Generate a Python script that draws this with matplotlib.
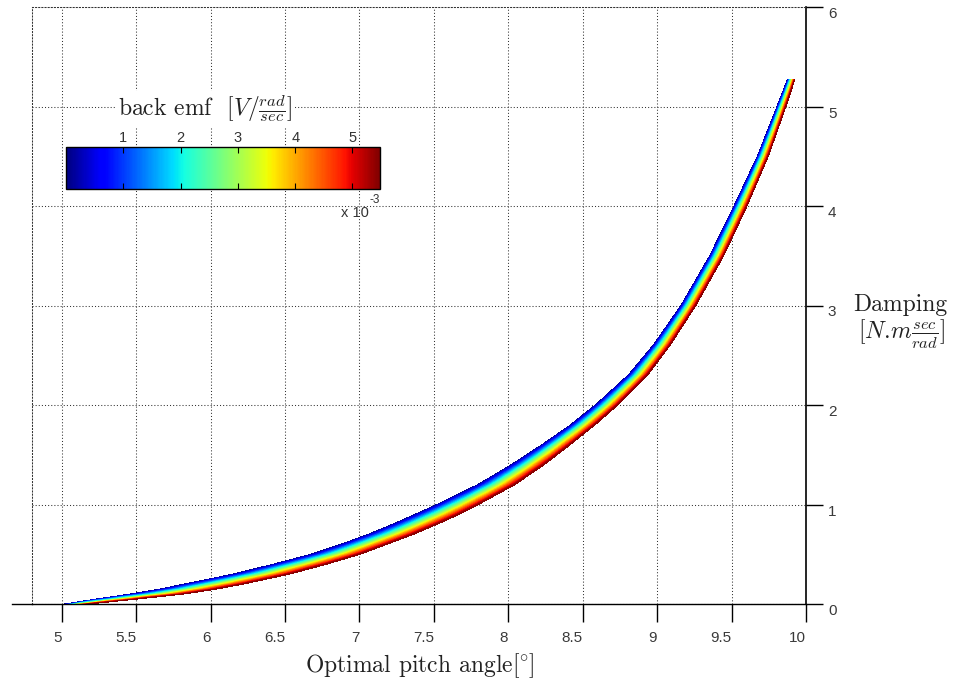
import numpy as np
import matplotlib
matplotlib.use("Agg")
import matplotlib.pyplot as plt
import matplotlib.tri as mtri
from matplotlib.colors import Normalize
from matplotlib.cm import ScalarMappable
from matplotlib.lines import Line2D

plt.rcParams['font.family'] = ['Liberation Sans', 'DejaVu Sans']
plt.rcParams['mathtext.fontset'] = 'cm'

# ---------------- data ----------------
damping_levels = [0.0, 0.05, 0.1, 0.15, 0.2, 0.3, 0.4, 0.5, 0.6, 0.7, 0.8, 0.9,
                  1.0, 1.2, 1.4, 1.6, 1.8, 2.0, 2.3, 2.6, 3.0, 3.5, 4.0, 4.5,
                  5.0, 5.27]
# optimal pitch of the lowest back-emf curve (upper-left, dark blue edge)
pitch_low_emf = [5.02, 5.23, 5.46, 5.66, 5.82, 6.15, 6.42, 6.675, 6.875, 7.058,
                 7.22, 7.372, 7.52, 7.795, 8.02, 8.225, 8.418, 8.585, 8.805,
                 8.973, 9.16, 9.353, 9.516, 9.673, 9.805, 9.875]
# optimal pitch of the middle back-emf curve
pitch_mid_emf = [5.10, 5.37, 5.64, 5.85, 6.02, 6.34, 6.60, 6.84, 7.03, 7.21,
                 7.37, 7.52, 7.66, 7.92, 8.13, 8.32, 8.50, 8.66, 8.87, 9.03,
                 9.21, 9.40, 9.56, 9.71, 9.835, 9.90]
# optimal pitch of the highest back-emf curve (lower-right, dark red edge)
pitch_high_emf = [5.18, 5.51, 5.82, 6.04, 6.22, 6.53, 6.78, 7.005, 7.185, 7.362,
                  7.52, 7.668, 7.80, 8.045, 8.24, 8.415, 8.582, 8.735, 8.935,
                  9.087, 9.26, 9.447, 9.604, 9.747, 9.865, 9.925]
emf_values = [0.0, 2.75e-3, 5.5e-3]          # back emf of the three curves

emf_min, emf_max = 0.0, 5.48e-3
x_ticks = [5, 5.5, 6, 6.5, 7, 7.5, 8, 8.5, 9, 9.5, 10]
x_tick_labels = ['5', '5.5', '6', '6.5', '7', '7.5', '8', '8.5', '9', '9.5', '10']
y_ticks = [0, 1, 2, 3, 4, 5, 6]
y_tick_labels = ['0', '1', '2', '3', '4', '5', '6']
cb_ticks = [1e-3, 2e-3, 3e-3, 4e-3, 5e-3]
cb_tick_labels = ['1', '2', '3', '4', '5']

# ---------------- figure ----------------
W, H = 956, 683
fig = plt.figure(figsize=(W / 100, H / 100), dpi=100)
ax = fig.add_axes([32 / W, 1 - 604 / H, (806 - 32) / W, (604 - 7) / H])
ax.set_xlim(4.8, 10)
ax.set_ylim(0, 6)

# band: three curves (low / mid / high back emf) triangulated
curves = [pitch_low_emf, pitch_mid_emf, pitch_high_emf]
ncol = len(curves)
nrow = len(damping_levels)
px = np.array(curves).T.ravel()           # row-major: row=damping, col=curve
py = np.repeat(damping_levels, ncol)
pz = np.tile(emf_values, nrow)
tris = []
for i in range(nrow - 1):
    for j in range(ncol - 1):
        a = i * ncol + j
        b = a + 1
        c = a + ncol
        d = c + 1
        tris.append([a, b, c])
        tris.append([b, d, c])
triang = mtri.Triangulation(px, py, np.array(tris))
levels = np.linspace(emf_values[0], emf_values[-1], 65)
ax.tricontourf(triang, pz, levels=levels, cmap='jet', zorder=2)

# grid and axes styling
dot = (0, (1, 2))
ax.set_axisbelow(True)
ax.grid(True, color='#333333', linestyle=dot, linewidth=0.75)
for side in ('left', 'top'):
    ax.spines[side].set_linestyle(dot)
    ax.spines[side].set_color('#333333')
    ax.spines[side].set_linewidth(0.75)
ax.spines['right'].set_linewidth(1.2)
ax.spines['bottom'].set_linewidth(1.0)

ax.set_xticks(x_ticks, labels=x_tick_labels)
ax.set_yticks(y_ticks, labels=y_tick_labels)
ax.yaxis.tick_right()
ax.tick_params(axis='x', direction='out', length=13, width=1, pad=6.5,
               labelsize=11, labelcolor='#3a3a3a', top=False)
ax.tick_params(axis='y', direction='out', length=12.2, width=1, pad=3.6,
               labelsize=11, labelcolor='#3a3a3a', left=False, right=True)
for t in ax.get_xticklabels():
    t.set_horizontalalignment('right')
for t in ax.get_yticklabels():
    t.set_verticalalignment('top')

# x-axis line extension to the left
ax.add_line(Line2D([-20 / 774, 0], [0, 0], transform=ax.transAxes,
                   color='k', lw=1.0, clip_on=False))

# labels
fig.text(420 / W, 1 - 666 / H, r'Optimal pitch angle$[\!^\circ\!]$', family='cmr10',
         fontsize=17, ha='center', va='center', color='#222222')
fig.text(900 / W, 1 - 305 / H, 'Damping', family='cmr10', fontsize=17,
         ha='center', va='center', color='#222222')
fig.text(901 / W, 1 - 334 / H, r'$[N.\!m\frac{sec}{rad}]$', fontsize=17,
         ha='center', va='center', color='#222222')

# colorbar
cax = fig.add_axes([66 / W, 1 - 189 / H, (380 - 66) / W, (189 - 147) / H])
sm = ScalarMappable(norm=Normalize(emf_min, emf_max), cmap='jet')
cb = fig.colorbar(sm, cax=cax, orientation='horizontal')
cb.set_ticks(cb_ticks, labels=cb_tick_labels)
cb.outline.set_linewidth(1.0)
cax.tick_params(axis='x', direction='in', top=True, bottom=True, labeltop=True,
                labelbottom=False, length=4, width=0.8, pad=1.5,
                labelsize=10.5, labelcolor='#333333')
fig.text(205 / W, 1 - 109 / H, r'back emf  $[V/\frac{rad}{sec}]$', family='cmr10',
         fontsize=17, ha='center', va='center', color='#222222',
         bbox=dict(facecolor='white', edgecolor='none', pad=2))
fig.text(341 / W, 1 - 213 / H, 'x 10', fontsize=10.5, ha='left', va='center',
         color='#333333')
fig.text(369 / W, 1 - 200 / H, '-3', fontsize=8.5, ha='left', va='center',
         color='#333333')

fig.savefig('out.png', dpi=100)
